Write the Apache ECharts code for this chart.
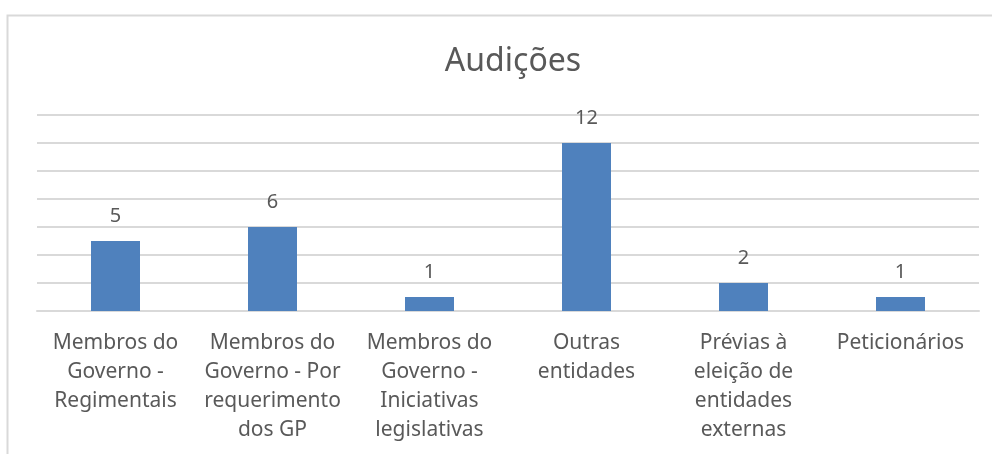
<!DOCTYPE html>
<html>
<head>
<meta charset="utf-8">
<script src="https://cdn.jsdelivr.net/npm/echarts@6/dist/echarts.min.js"></script>
<style>
    html, body { margin: 0; padding: 0; background: #fff; }
    #chart { width: 992px; height: 454px; }
</style>
</head>
<body>
<div id="chart"></div>
<script>
const categories = [
    "Membros do\nGoverno -\nRegimentais",
    "Membros do\nGoverno - Por\nrequerimento\ndos GP",
    "Membros do\nGoverno -\nIniciativas\nlegislativas",
    "Outras\nentidades",
    "Prévias à\neleição de\nentidades\nexternas",
    "Peticionários"
];
const values = [5, 6, 1, 12, 2, 1];

const textColor = '#595959';
const gridColor = '#d9d9d9';

const chart = echarts.init(document.getElementById('chart'), null, { renderer: 'canvas' });
const option = {
    animation: false,
    backgroundColor: '#fff',
    textStyle: { fontFamily: 'Noto Sans' },
    title: {
        text: 'Audições',
        left: 508,
        textAlign: 'center',
        top: 41,
        textStyle: { fontFamily: 'Noto Sans', fontSize: 32, fontWeight: 'normal', color: textColor }
    },
    graphic: [{
        type: 'rect',
        shape: { x: 7.5, y: 15.5, width: 1000, height: 500 },
        style: { fill: 'none', stroke: gridColor, lineWidth: 2 },
        silent: true
    }],
    grid: { left: 37, right: 13, top: 115, bottom: 143 },
    xAxis: {
        type: 'category',
        data: categories,
        axisLine: { show: true, lineStyle: { color: gridColor, width: 2 } },
        axisTick: { show: false },
        axisLabel: {
            interval: 0,
            color: textColor,
            fontSize: 21,
            lineHeight: 29,
            margin: 18,
            align: 'center'
        }
    },
    yAxis: {
        type: 'value',
        min: 0,
        max: 14,
        interval: 2,
        axisLine: { show: false },
        axisTick: { show: false },
        axisLabel: { show: false },
        splitLine: { lineStyle: { color: gridColor, width: 2 } }
    },
    series: [{
        type: 'bar',
        data: values,
        barWidth: 49,
        itemStyle: { color: '#4f81bd' },
        label: {
            show: true,
            position: 'top',
            distance: 15,
            color: textColor,
            fontSize: 20
        }
    }]
};
chart.setOption(option);
</script>
</body>
</html>
